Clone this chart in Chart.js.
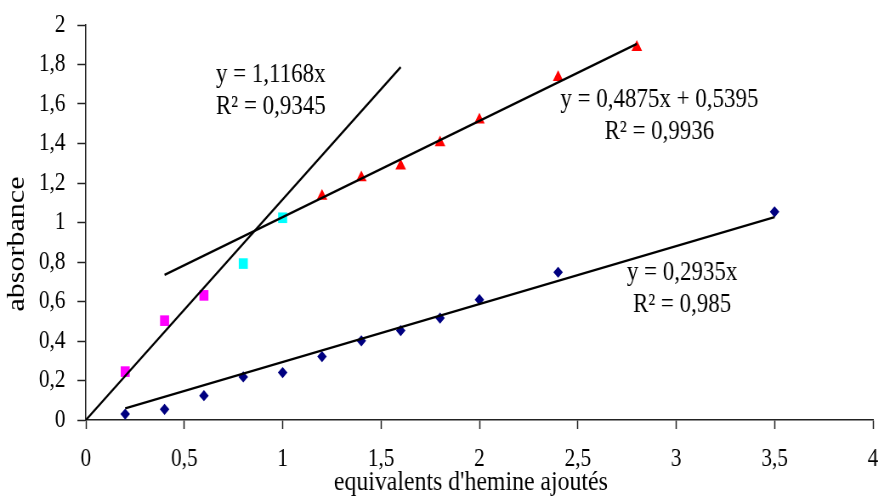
<!DOCTYPE html>
<html>
<head>
<meta charset="utf-8">
<script src="https://cdn.jsdelivr.net/npm/chart.js@4"></script>
<style>
  html, body { margin: 0; padding: 0; background: #fff; overflow: hidden; }
  /* the original picture is squeezed horizontally, so draw wide and squash */
  #wrap { width: 1035px; height: 500px; transform: scaleX(0.85); transform-origin: 0 0; }
</style>
</head>
<body>
<div id="wrap"><canvas id="myChart" width="1035" height="500"></canvas></div>
<script>
    // measured points
    var magentaX = [0.2, 0.4, 0.6];
    var magentaY = [0.245, 0.503, 0.631];
    var cyanX = [0.8, 1.0];
    var cyanY = [0.792, 1.024];
    var redX = [1.2, 1.4, 1.6, 1.8, 2.0, 2.4, 2.8];
    var redY = [1.133, 1.227, 1.286, 1.404, 1.519, 1.735, 1.887];
    var blueX = [0.2, 0.4, 0.6, 0.8, 1.0, 1.2, 1.4, 1.6, 1.8, 2.0, 2.4, 3.5];
    var blueY = [0.030, 0.054, 0.123, 0.218, 0.240, 0.321, 0.401, 0.453, 0.516, 0.609, 0.748, 1.054];

    // trend lines (coefficients printed on the chart) and their x extent
    var trendSlope = [1.1168, 0.4875, 0.2935];
    var trendIntercept = [0, 0.5395, 0];
    var trendFrom = [0, 0.4, 0.2];
    var trendTo = [1.6, 2.8, 3.5];
    var trendLabels = [
        ['y = 1,1168x', 'R\u00b2 = 0,9345'],
        ['y = 0,4875x + 0,5395', 'R\u00b2 = 0,9936'],
        ['y = 0,2935x', 'R\u00b2 = 0,985']
    ];
    // label anchor (data coords: centre x, first baseline y)
    var labelX = [0.94, 2.915, 3.03];
    var labelY = [1.71, 1.585, 0.707];

    var xTitle = "equivalents d'hemine ajout\u00e9s";
    var yTitle = 'absorbance';

    function pts(xs, ys) {
        return xs.map(function (x, i) { return {x: x, y: ys[i]}; });
    }

    var datasets = [];
    for (var i = 0; i < trendSlope.length; i++) {
        datasets.push({
            data: [
                {x: trendFrom[i], y: trendSlope[i] * trendFrom[i] + trendIntercept[i]},
                {x: trendTo[i], y: trendSlope[i] * trendTo[i] + trendIntercept[i]}
            ],
            showLine: true, borderColor: '#000', borderWidth: 2.3, pointRadius: 0
        });
    }
    datasets.push({data: pts(magentaX, magentaY), pointStyle: 'rect', pointRadius: 7.5,
        backgroundColor: '#ff00ff', borderColor: '#ff00ff', borderWidth: 0});
    datasets.push({data: pts(cyanX, cyanY), pointStyle: 'rect', pointRadius: 7.5,
        backgroundColor: '#00ffff', borderColor: '#00ffff', borderWidth: 0});
    datasets.push({data: pts(redX, redY), pointStyle: 'triangle', pointRadius: 7.2,
        backgroundColor: '#ff0000', borderColor: '#ff0000', borderWidth: 0});
    datasets.push({data: pts(blueX, blueY), pointStyle: 'rectRot', pointRadius: 5.6,
        backgroundColor: '#000080', borderColor: '#000080', borderWidth: 0});

    var fam = '"Liberation Serif", "Times New Roman", serif';

    var textPlugin = {
        id: 'texts',
        afterDraw: function (chart) {
            var c = chart.ctx, xs = chart.scales.x, ys = chart.scales.y;
            c.save();
            c.fillStyle = '#000';
            c.textAlign = 'center';
            c.textBaseline = 'alphabetic';
            c.font = '27px ' + fam;
            for (var i = 0; i < trendLabels.length; i++) {
                var px = xs.getPixelForValue(labelX[i]);
                var py = ys.getPixelForValue(labelY[i]);
                c.fillText(trendLabels[i][0], px, py);
                c.fillText(trendLabels[i][1], px, py + 32);
            }
            c.font = '28px ' + fam;
            c.fillText(xTitle, 554, 490);
            c.translate(28, 244);
            c.rotate(-Math.PI / 2);
            c.font = '30px ' + fam;
            c.fillText(yTitle, 0, 0);
            c.restore();
        }
    };

    function comma(v) { return String(Math.round(v * 10) / 10).replace('.', ','); }

    const ctx = document.getElementById('myChart').getContext('2d');
    const myChart = new Chart(ctx, {
        type: 'scatter',
        data: { datasets: datasets },
        options: {
            responsive: false,
            animation: false,
            layout: { padding: { top: 25, right: 8, left: 0, bottom: 0 } },
            plugins: { legend: { display: false }, tooltip: { enabled: false } },
            scales: {
                x: {
                    type: 'linear', min: 0, max: 4,
                    afterFit: function (s) { s.height = 80; s.paddingLeft = 0; s.paddingRight = 0; },
                    border: { color: '#222', width: 1.5 },
                    grid: { drawOnChartArea: false, tickLength: 9, tickColor: '#222', tickWidth: 1.5 },
                    ticks: { stepSize: 0.5, color: '#000', padding: 15, font: { family: fam, size: 25 },
                        callback: comma, maxRotation: 0 }
                },
                y: {
                    type: 'linear', min: 0, max: 2,
                    afterFit: function (s) { s.width = 101; s.paddingTop = 0; s.paddingBottom = 0; },
                    border: { color: '#222', width: 1.5 },
                    grid: { drawOnChartArea: false, tickLength: 10, tickColor: '#222', tickWidth: 1.5 },
                    ticks: { stepSize: 0.2, color: '#000', padding: 14, font: { family: fam, size: 25 },
                        callback: comma }
                }
            }
        },
        plugins: [textPlugin]
    });
</script>
</body>
</html>
